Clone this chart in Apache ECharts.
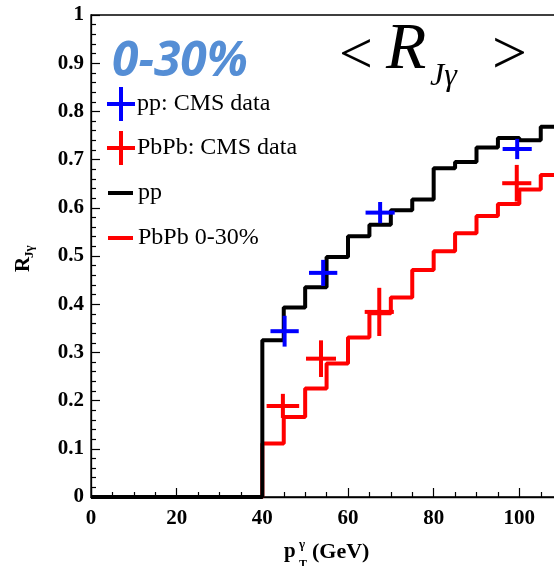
<!DOCTYPE html>
<html>
<head>
<meta charset="utf-8">
<script src="https://cdn.jsdelivr.net/npm/echarts@6/dist/echarts.min.js"></script>
<style>html,body{margin:0;padding:0;background:#fff;overflow:hidden;width:554px;height:566px;}#c{width:608px;height:566px;}</style>
</head>
<body>
<div id="c"></div>
<script>
// Histogram bin edges (GeV) and per-bin model values
var binEdges = [0,5,10,15,20,25,30,35,40,45,50,55,60,65,70,75,80,85,90,95,100,105,110];
var ppModel  = [0,0,0,0,0,0,0,0,0.325,0.393,0.435,0.498,0.541,0.565,0.595,0.617,0.682,0.695,0.725,0.745,0.740,0.768];
var pbpbModel= [0,0,0,0,0,0,0,0,0.111,0.166,0.225,0.277,0.331,0.381,0.414,0.471,0.510,0.547,0.583,0.608,0.638,0.668];

// CMS data points
var ppDataX   = [45.2, 54.2, 67.5, 99.5];
var ppDataY   = [0.344, 0.465, 0.590, 0.722];
var ppDataYErr= [0.032, 0.027, 0.022, 0.021];
var ppDataXErr= [3.3, 3.3, 3.4, 3.4];
var pbDataX   = [44.8, 53.7, 67.3, 99.4];
var pbDataY   = [0.189, 0.287, 0.384, 0.651];
var pbDataYErr= [0.025, 0.038, 0.050, 0.038];
var pbDataXErr= [3.8, 3.5, 3.4, 3.4];

var xTicks = [0, 20, 40, 60, 80, 100];
var yTicks = [0, 0.1, 0.2, 0.3, 0.4, 0.5, 0.6, 0.7, 0.8, 0.9, 1];

function stepData(vals){
  var d = [];
  for (var i = 0; i < vals.length; i++) d.push([binEdges[i], vals[i]]);
  d.push([binEdges[vals.length], vals[vals.length-1]]);
  return d;
}
function crossData(xs, ys, xe, ye){
  return xs.map(function(x,i){ return [x, ys[i], xe[i], ye[i]]; });
}
function crossRender(color){
  return function(params, api){
    var x = api.value(0), y = api.value(1), xe = api.value(2), ye = api.value(3);
    var a = api.coord([x - xe, y]), b = api.coord([x + xe, y]);
    var c = api.coord([x, y - ye]), d = api.coord([x, y + ye]);
    var st = {stroke: color, lineWidth: 4};
    return {type:'group', children:[
      {type:'line', shape:{x1:a[0],y1:a[1],x2:b[0],y2:b[1]}, style:st},
      {type:'line', shape:{x1:c[0],y1:c[1],x2:d[0],y2:d[1]}, style:st}
    ]};
  };
}
var serif = "'Liberation Serif','Times New Roman',serif";
var crossIcon = 'path://M12,0H16V15H28V19H16V34H12V19H0V15H12Z';

var chart = echarts.init(document.getElementById('c'), null, {renderer:'canvas'});
chart.setOption({
  animation: false,
  backgroundColor: '#fff',
  grid: {left: 91, top: 15, bottom: 69, right: 0, show: true, borderColor: '#000', borderWidth: 1.3, containLabel: false},
  xAxis: {
    type: 'value', min: 0, max: 120, interval: 20,
    axisLine: {show: true, lineStyle: {color: '#000', width: 1.3}},
    axisTick: {show: true, inside: true, length: 9, lineStyle: {color: '#000', width: 1.2}},
    minorTick: {show: true, splitNumber: 4, length: 5, lineStyle: {color: '#000', width: 1.2}},
    splitLine: {show: false},
    axisLabel: {color: '#000', fontFamily: serif, fontWeight: 'bold', fontSize: 21, margin: 11,
      formatter: function(v){ return xTicks.indexOf(v) >= 0 ? String(v) : ''; }}
  },
  yAxis: {
    type: 'value', min: 0, max: 1, interval: 0.1,
    axisLine: {show: true, lineStyle: {color: '#000', width: 1.3}},
    axisTick: {show: true, inside: true, length: 9, lineStyle: {color: '#000', width: 1.2}},
    minorTick: {show: true, splitNumber: 5, length: 5, lineStyle: {color: '#000', width: 1.2}},
    splitLine: {show: false},
    axisLabel: {color: '#000', fontFamily: serif, fontWeight: 'bold', fontSize: 21, margin: 7,
      formatter: function(v){ var r = Math.round(v*10)/10; return yTicks.indexOf(r) >= 0 ? String(r) : ''; }}
  },
  legend: [
    {show: true, orient: 'vertical', left: 107, top: 87, padding: 0, itemWidth: 28, itemHeight: 34, itemGap: 10,
     textStyle: {fontFamily: serif, fontSize: 24, color: '#000', padding: [0,0,0,-3]},
     data: [{name: 'pp: CMS data', icon: crossIcon}, {name: 'PbPb: CMS data', icon: crossIcon}]},
    {show: true, orient: 'vertical', left: 108, top: 181, padding: 0, itemWidth: 25, itemHeight: 4, itemGap: 21,
     textStyle: {fontFamily: serif, fontSize: 24, color: '#000', lineHeight: 24},
     data: [{name: 'pp', icon: 'rect'}, {name: 'PbPb 0-30%', icon: 'rect'}]}
  ],
  series: [
    {name: 'PbPb 0-30%', type: 'line', step: 'end', data: stepData(pbpbModel), symbol: 'none', z: 2,
     lineStyle: {color: '#ff0000', width: 4}, itemStyle: {color: '#ff0000'}},
    {name: 'pp', type: 'line', step: 'end', data: stepData(ppModel), symbol: 'none', z: 3,
     lineStyle: {color: '#000', width: 4}, itemStyle: {color: '#000'}},
    {name: 'PbPb: CMS data', type: 'custom', renderItem: crossRender('#ff0000'), z: 4,
     itemStyle: {color: '#ff0000'}, encode: {x: 0, y: 1},
     data: crossData(pbDataX, pbDataY, pbDataXErr, pbDataYErr)},
    {name: 'pp: CMS data', type: 'custom', renderItem: crossRender('#0000ff'), z: 5,
     itemStyle: {color: '#0000ff'}, encode: {x: 0, y: 1},
     data: crossData(ppDataX, ppDataY, ppDataXErr, ppDataYErr)}
  ],
  graphic: [
    {type: 'text', left: 112, top: 38, z: 10, style: {text: '0-30%', fill: '#558ed5',
      font: "italic bold 48px 'Open Sans', sans-serif"}},
    {type: 'text', x: 339, y: 57, z: 10, style: {text: '<', fill: '#000', font: "60px " + serif, verticalAlign: 'middle'}},
    {type: 'text', x: 386, y: 51, z: 10, style: {text: 'R', fill: '#000', font: "italic 66px " + serif, verticalAlign: 'middle'}},
    {type: 'text', x: 430, y: 77, z: 10, style: {text: 'Jγ', fill: '#000', font: "italic 32px " + serif, verticalAlign: 'middle'}},
    {type: 'text', x: 492, y: 57, z: 10, style: {text: '>', fill: '#000', font: "62px " + serif, verticalAlign: 'middle'}},
    {type: 'text', x: 284, y: 552, z: 10, style: {text: 'p', fill: '#000', font: "bold 21px " + serif, verticalAlign: 'middle'}},
    {type: 'text', x: 299, y: 545, z: 10, style: {text: 'γ', fill: '#000', font: "bold 13px " + serif, verticalAlign: 'middle'}},
    {type: 'text', x: 299, y: 565, z: 10, style: {text: 'T', fill: '#000', font: "bold 12px " + serif, verticalAlign: 'middle'}},
    {type: 'text', x: 312, y: 552, z: 10, style: {text: '(GeV)', fill: '#000', font: "bold 22px " + serif, verticalAlign: 'middle'}},
    {type: 'group', x: 24, y: 272, rotation: Math.PI/2, z: 10, children: [
      {type: 'text', x: 0, y: 0, style: {text: 'R', fill: '#000', font: "bold 21px " + serif, verticalAlign: 'middle'}},
      {type: 'text', x: 14, y: 6, style: {text: 'Jγ', fill: '#000', font: "bold 13px " + serif, verticalAlign: 'middle'}}
    ]}
  ]
});
</script>
</body>
</html>
